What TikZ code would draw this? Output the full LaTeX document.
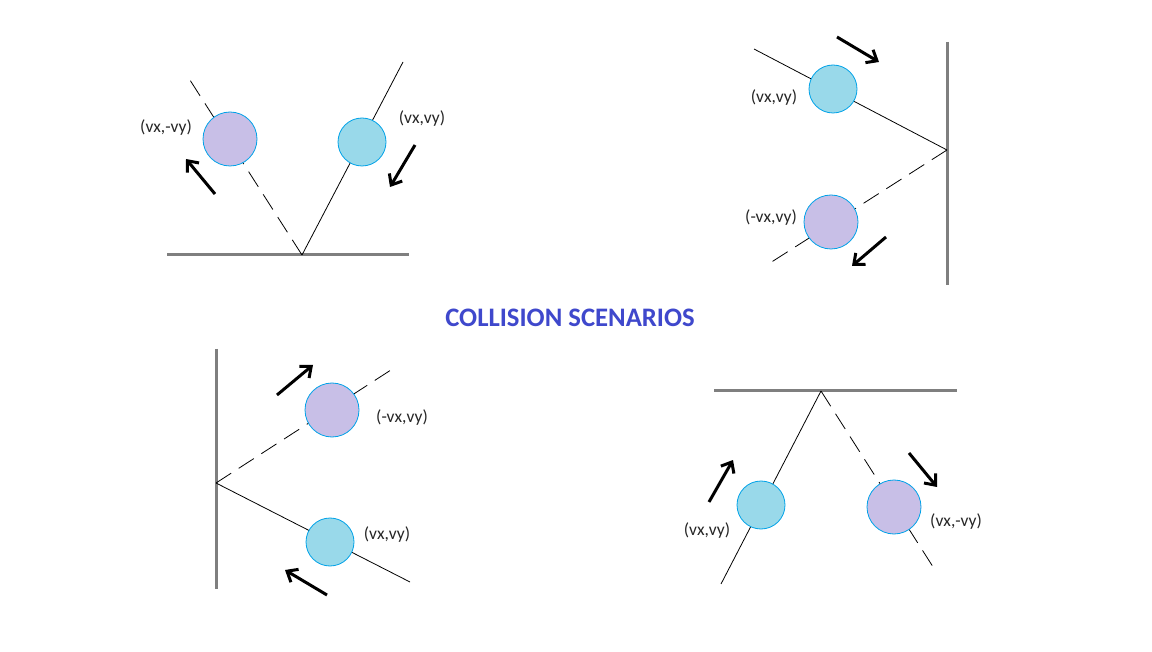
\documentclass[tikz,border=0pt]{standalone}
\usepackage{fontspec}
\setmainfont{Carlito}
\usetikzlibrary{arrows.meta}
\definecolor{paintcyan}{HTML}{99D9EA}
\definecolor{paintlav}{HTML}{C8BFE7}
\definecolor{paintblue}{HTML}{00A2E8}
\definecolor{paintgray}{HTML}{7F7F7F}
\definecolor{paintindigo}{HTML}{3F48CC}

\begin{document}
\begin{tikzpicture}[
    x=1pt, y=-1pt,
    wall/.style={draw=paintgray, line width=3pt},
    track/.style={draw=black, line width=0.8pt},
    refl/.style={track, dash pattern=on 18pt off 9pt},
    inball/.style={circle, draw=paintblue, line width=0.8pt, fill=paintcyan,
                   minimum size=48pt, inner sep=0pt},
    outball/.style={inball, fill=paintlav, minimum size=54pt},
    vel/.style={-{Straight Barb[length=9pt, width=15pt]}, line width=3pt},
    lbl/.style={font=\fontsize{17.5}{20}\selectfont, text=black!85}
  ]
  \fill[white] (0,0) rectangle (1152,652);
  \useasboundingbox (0,0) rectangle (1152,652);

  % ----- Top left: floor -----
  \coordinate (fa) at (167,255);
  \coordinate (fb) at (409,255);
  \coordinate (fhit) at (302,255);
  \coordinate (fin) at (403,62);
  \coordinate (fout) at (188,77);
  \draw[wall] (fa) -- (fb);
  \draw[track] (fhit) -- (fin);
  \draw[refl] (fhit) -- (fout);
  \node[inball]  (fball1) at (362,142) {};
  \node[outball] (fball2) at (230,139) {};
  \node[lbl] (flbl1) at (422,119) {(vx,vy)};
  \node[lbl] (flbl2) at (166,128) {(vx,-vy)};
  \coordinate (fv1a) at (415,145);
  \coordinate (fv1b) at (390,187);
  \coordinate (fv2a) at (215,194);
  \coordinate (fv2b) at (186,159);
  \draw[vel] (fv1a) -- (fv1b);
  \draw[vel] (fv2a) -- (fv2b);

  % ----- Top right: right wall -----
  \coordinate (ra) at (947,42);
  \coordinate (rb) at (947,285);
  \coordinate (rhit) at (947,150);
  \coordinate (rin) at (754,49);
  \coordinate (rout) at (770,263);
  \draw[wall] (ra) -- (rb);
  \draw[track] (rhit) -- (rin);
  \draw[refl] (rhit) -- (rout);
  \node[inball]  (rball1) at (833,89) {};
  \node[outball] (rball2) at (831,222) {};
  \node[lbl] (rlbl1) at (774,98) {(vx,vy)};
  \node[lbl] (rlbl2) at (771,218) {(-vx,vy)};
  \coordinate (rv1a) at (837,37);
  \coordinate (rv1b) at (879,62);
  \coordinate (rv2a) at (886,237);
  \coordinate (rv2b) at (852,266);
  \draw[vel] (rv1a) -- (rv1b);
  \draw[vel] (rv2a) -- (rv2b);

  % ----- Title -----
  \node[font=\fontsize{26.7}{31}\selectfont\bfseries, text=paintindigo]
    (title) at (570,318) {COLLISION SCENARIOS};

  % ----- Bottom left: left wall -----
  \coordinate (la) at (216,349);
  \coordinate (lb) at (216,589);
  \coordinate (lhit) at (216,483);
  \coordinate (lin) at (410,582);
  \coordinate (lout) at (394,368);
  \draw[wall] (la) -- (lb);
  \draw[track] (lhit) -- (lin);
  \draw[refl] (lhit) -- (lout);
  \node[inball]  (lball1) at (330,542) {};
  \node[outball] (lball2) at (332,410) {};
  \node[lbl] (llbl1) at (387,535) {(vx,vy)};
  \node[lbl] (llbl2) at (402,418) {(-vx,vy)};
  \coordinate (lv1a) at (327,595);
  \coordinate (lv1b) at (285,570);
  \coordinate (lv2a) at (277,395);
  \coordinate (lv2b) at (313,365);
  \draw[vel] (lv1a) -- (lv1b);
  \draw[vel] (lv2a) -- (lv2b);

  % ----- Bottom right: ceiling -----
  \coordinate (ca) at (714,391);
  \coordinate (cb) at (957,391);
  \coordinate (chit) at (821,391);
  \coordinate (cin) at (721,584);
  \coordinate (cout) at (935,570);
  \draw[wall] (ca) -- (cb);
  \draw[track] (chit) -- (cin);
  \draw[refl] (chit) -- (cout);
  \node[inball]  (cball1) at (761,505) {};
  \node[outball] (cball2) at (894,507) {};
  \node[lbl] (clbl1) at (707,531) {(vx,vy)};
  \node[lbl] (clbl2) at (956,522) {(vx,-vy)};
  \coordinate (cv1a) at (709,502);
  \coordinate (cv1b) at (733,460);
  \coordinate (cv2a) at (909,453);
  \coordinate (cv2b) at (937,487);
  \draw[vel] (cv1a) -- (cv1b);
  \draw[vel] (cv2a) -- (cv2b);
\end{tikzpicture}
\end{document}
